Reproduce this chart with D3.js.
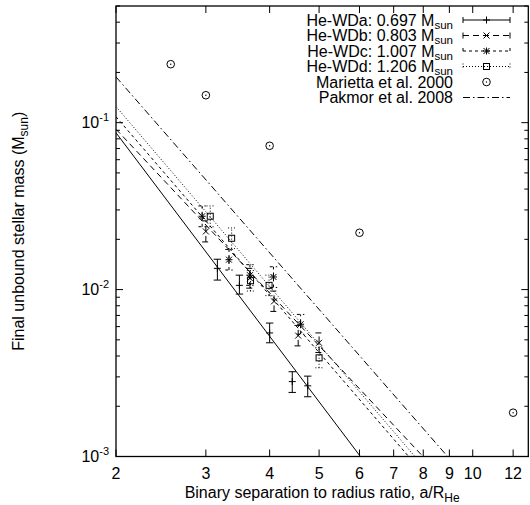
<!DOCTYPE html>
<html><head><meta charset="utf-8">
<script src="https://cdn.jsdelivr.net/npm/d3@7"></script>
<style>
body{margin:0;background:#fff}
svg{display:block}
text{font-family:"Liberation Sans",Arial,Helvetica,sans-serif;fill:#000}
</style>
</head><body>
<svg id="chart" width="530" height="505"></svg>
<script>
// ---------- data ----------
const xTickValues = [2,3,4,5,6,7,8,9,10,12];
const yMajorTicks = [1e-3,1e-2,1e-1];
const yMajorExp = ["-3","-2","-1"];

const seriesLabels = ["He-WDa: 0.697 M","He-WDb: 0.803 M","He-WDc: 1.007 M","He-WDd: 1.206 M"];
const seriesSub = "sun";

// He-WDa (+, solid)
const aX  = [3.16, 3.49, 4.00, 4.43, 4.75];
const aY  = [0.0134, 0.0106, 0.0055, 0.00281, 0.00265];
const aLo = [0.0114, 0.0094, 0.0048, 0.00242, 0.00228];
const aHi = [0.0152, 0.0122, 0.0063, 0.00322, 0.00303];
// He-WDb (x, dashed)
const bX  = [3.00, 3.66, 4.08, 4.55, 5.00];
const bY  = [0.0223, 0.0117, 0.0085, 0.0053, 0.0048];
const bLo = [0.0193, 0.0102, 0.0074, 0.0046, 0.0042];
const bHi = [0.0258, 0.0134, 0.0098, 0.0061, 0.0055];
// He-WDc (*, short dashes)
const cX  = [2.95, 3.33, 3.66, 4.07, 4.60];
const cY  = [0.0275, 0.0151, 0.0122, 0.0119, 0.0062];
const cLo = [0.0238, 0.0131, 0.0106, 0.0103, 0.0054];
const cHi = [0.0317, 0.0174, 0.0141, 0.0137, 0.0071];
// He-WDd (square, dotted)
const dX  = [3.06, 3.37, 3.67, 3.99, 5.00];
const dY  = [0.0275, 0.0203, 0.0113, 0.0106, 0.0039];
const dLo = [0.0238, 0.0176, 0.0098, 0.0092, 0.0034];
const dHi = [0.0317, 0.0234, 0.0130, 0.0122, 0.0045];
// Marietta et al. 2000
const mX = [2.56, 3.0, 4.0, 6.0, 12.0];
const mY = [0.224, 0.146, 0.0727, 0.0219, 0.00183];
// power-law fits: value at a/R = 2 and exponent
const fitAmp = [0.087, 0.0914, 0.1085, 0.1249];
const fitExp = [-4.05, -3.26, -3.55, -3.58];
// Pakmor et al. 2008
const pakAmp = 0.188;
const pakExp = -3.5;

// ---------- layout ----------
const L = 116, R = 528.3, T = 6, B = 456.5;
const svg = d3.select("#chart");
const x = d3.scaleLog().domain([2, 12.85]).range([L, R]);
const y = d3.scaleLog().domain([1e-3, 0.5]).range([B, T]);

svg.append("defs").append("clipPath").attr("id","clip")
  .append("rect").attr("x",L).attr("y",T).attr("width",R-L).attr("height",B-T);

const dashes = [null, "6,4", "3,3", "1,2"];
const pakDash = "7,3,1.5,3";

const g = svg.append("g");
const majLen = 7, minLen = 4;
xTickValues.forEach(v=>{
  const px = x(v);
  g.append("line").attr("x1",px).attr("x2",px).attr("y1",B).attr("y2",B-majLen).attr("stroke","#000");
  g.append("line").attr("x1",px).attr("x2",px).attr("y1",T).attr("y2",T+majLen).attr("stroke","#000");
  g.append("text").attr("x",px).attr("y",B+22).attr("text-anchor","middle")
    .attr("font-size",16).text(v);
});
const yMinor = [];
[1e-3,1e-2,1e-1].forEach(d=>{ for(let k=2;k<=9;k++){ const v=d*k; if(v<=0.5) yMinor.push(v);} });
yMajorTicks.forEach((v,i)=>{
  const py = y(v);
  g.append("line").attr("x1",L).attr("x2",L+majLen).attr("y1",py).attr("y2",py).attr("stroke","#000");
  g.append("line").attr("x1",R).attr("x2",R-majLen).attr("y1",py).attr("y2",py).attr("stroke","#000");
  const t = g.append("text").attr("x",L-7).attr("y",py+5).attr("text-anchor","end").attr("font-size",16);
  t.append("tspan").text("10");
  t.append("tspan").attr("dy",-7).attr("font-size",11).text(yMajorExp[i]);
});
yMinor.forEach(v=>{
  const py = y(v);
  g.append("line").attr("x1",L).attr("x2",L+minLen).attr("y1",py).attr("y2",py).attr("stroke","#000");
  g.append("line").attr("x1",R).attr("x2",R-minLen).attr("y1",py).attr("y2",py).attr("stroke","#000");
});

const plot = svg.append("g").attr("clip-path","url(#clip)");
const lineGen = d3.line().x(d=>x(d[0])).y(d=>y(d[1]));
const xsFit = [2, 12.85];
fitAmp.forEach((A,i)=>{
  const pts = xsFit.map(v=>[v, A*Math.pow(v/2, fitExp[i])]);
  plot.append("path").attr("d",lineGen(pts)).attr("fill","none").attr("stroke","#000")
    .attr("stroke-width",1).attr("stroke-dasharray",dashes[i]);
});
plot.append("path").attr("d",lineGen(xsFit.map(v=>[v, pakAmp*Math.pow(v/2,pakExp)])))
  .attr("fill","none").attr("stroke","#000").attr("stroke-width",1).attr("stroke-dasharray",pakDash);

function symbol(sel, type, cx, cy){
  const s = 3.5;
  if(type===0){
    sel.append("path").attr("d",`M${cx-s},${cy}H${cx+s}M${cx},${cy-s}V${cy+s}`).attr("stroke","#000").attr("fill","none");
  } else if(type===1){
    sel.append("path").attr("d",`M${cx-3},${cy-3}L${cx+3},${cy+3}M${cx-3},${cy+3}L${cx+3},${cy-3}`).attr("stroke","#000").attr("fill","none");
  } else if(type===2){
    sel.append("path").attr("d",`M${cx-s},${cy}H${cx+s}M${cx},${cy-s}V${cy+s}M${cx-3},${cy-3}L${cx+3},${cy+3}M${cx-3},${cy+3}L${cx+3},${cy-3}`).attr("stroke","#000").attr("fill","none");
  } else if(type===3){
    sel.append("rect").attr("x",cx-3).attr("y",cy-3).attr("width",6).attr("height",6).attr("stroke","#000").attr("fill","none");
  } else if(type===4){
    sel.append("circle").attr("cx",cx).attr("cy",cy).attr("r",3.8).attr("stroke","#000").attr("fill","none");
    sel.append("circle").attr("cx",cx).attr("cy",cy).attr("r",0.7).attr("fill","#000");
  }
}
function errorSeries(X,Y,Lo,Hi,idx){
  const gg = svg.append("g");
  X.forEach((xv,i)=>{
    const px = x(xv), py = y(Y[i]), pl = y(Lo[i]), ph = y(Hi[i]);
    const cap = 3.7;
    gg.append("path").attr("d",`M${px},${pl}V${ph}M${px-cap},${pl}H${px+cap}M${px-cap},${ph}H${px+cap}`)
      .attr("stroke","#000").attr("fill","none").attr("stroke-dasharray",dashes[idx]);
    symbol(gg, idx, px, py);
  });
}
errorSeries(aX,aY,aLo,aHi,0);
errorSeries(bX,bY,bLo,bHi,1);
errorSeries(cX,cY,cLo,cHi,2);
errorSeries(dX,dY,dLo,dHi,3);
const mg = svg.append("g");
mX.forEach((v,i)=>symbol(mg,4,x(v),y(mY[i])));

svg.append("rect").attr("x",L).attr("y",T).attr("width",R-L).attr("height",B-T)
  .attr("fill","none").attr("stroke","#000").attr("stroke-width",1.3);

const lg = svg.append("g");
const rowY0 = 20, rowDY = 15.5, txtR = 453, s0 = 463, s1 = 510;
const legendNames = seriesLabels.concat(["Marietta et al. 2000","Pakmor et al. 2008"]);
legendNames.forEach((name,i)=>{
  const cy = rowY0 + i*rowDY;
  const t = lg.append("text").attr("x",txtR).attr("y",cy+5.5).attr("text-anchor","end").attr("font-size",16);
  if(i<4){
    t.append("tspan").text(name);
    t.append("tspan").attr("dy",3).attr("font-size",11.5).text(seriesSub);
    lg.append("path").attr("d",`M${s0},${cy}H${s1}M${s0},${cy-3}V${cy+3}M${s1},${cy-3}V${cy+3}`)
      .attr("stroke","#000").attr("fill","none").attr("stroke-dasharray",dashes[i]);
    symbol(lg,i,(s0+s1)/2,cy);
  } else if(i===4){
    t.text(name);
    symbol(lg,4,(s0+s1)/2,cy);
  } else {
    t.text(name);
    lg.append("path").attr("d",`M${s0},${cy}H${s1}`).attr("stroke","#000").attr("stroke-dasharray",pakDash);
  }
});

const xt = svg.append("text").attr("x",(L+R)/2).attr("y",B+41).attr("text-anchor","middle").attr("font-size",16);
xt.append("tspan").text("Binary separation to radius ratio, a/R");
xt.append("tspan").attr("dy",4).attr("font-size",12).text("He");
const yt = svg.append("text").attr("transform",`translate(24,${(T+B)/2}) rotate(-90)`).attr("text-anchor","middle").attr("font-size",16);
yt.append("tspan").text("Final unbound stellar mass (M");
yt.append("tspan").attr("dy",4).attr("font-size",12).text("sun");
yt.append("tspan").attr("dy",-4).text(")");
</script>
</body></html>
